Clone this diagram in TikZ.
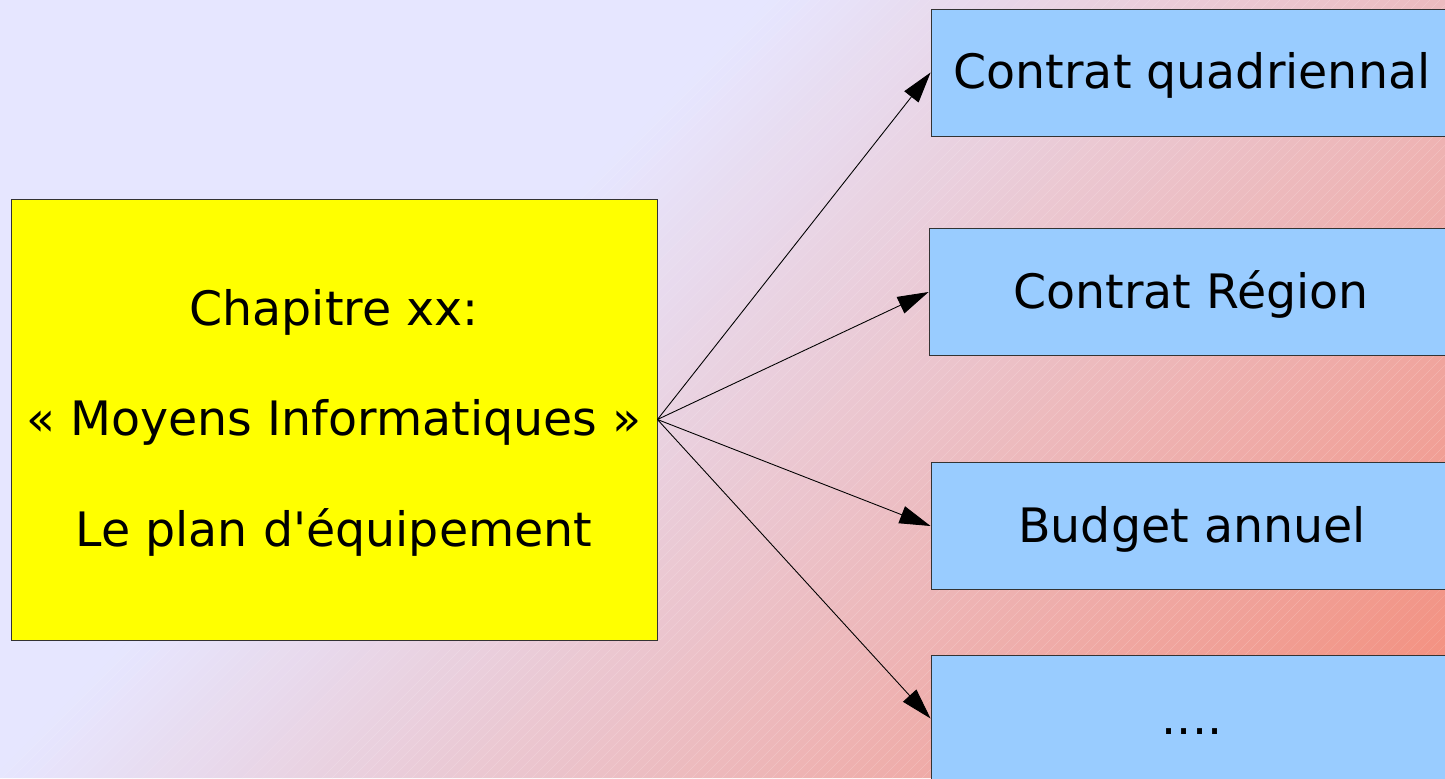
\documentclass[tikz,border=0pt]{standalone}
\usepackage{fontspec}
\setmainfont{DejaVu Sans}[Ligatures=TeXOff]
\usetikzlibrary{arrows.meta}
\definecolor{bglav}{HTML}{E6E6FF}
\definecolor{bgsalmon}{HTML}{F48A76}
\definecolor{chapyellow}{HTML}{FFFF00}
\definecolor{planblue}{HTML}{99CCFF}
\newcommand\linestrut{\rule[-0.236em]{0pt}{1.164em}}
\begin{document}
\begin{tikzpicture}[>={Triangle[length=6.2mm,width=3.6mm]}]
      \useasboundingbox (0,0) rectangle (28.9,-15.56);
      % background: lavender, then diagonal strips towards salmon
      \fill [bglav] (0,0) rectangle (28.9,-15.56);
      \begin{scope}
      \clip (0,0) rectangle (28.9,-15.56);
      \foreach \i in {0,...,145} {
          \pgfmathsetmacro{\sa}{0.02*(770+10*\i)}
          \pgfmathsetmacro{\sb}{\sa+0.21}
          \pgfmathsetmacro{\pct}{min(100,(10*\i+5)/14.53)}
          \colorlet{stripc}{bgsalmon!\pct!bglav}
          \fill [stripc] (\sa,0) -- (\sb,0) -- (\sb-15.56,-15.56) -- (\sa-15.56,-15.56) -- cycle;
          \draw [white, opacity=0.3, line width=0.35pt] (\sa+0.2,0) -- (\sa-15.36,-15.56);
      }
      \end{scope}
      \tikzstyle{chapbox}=[draw=black!80, line width=0.5pt, fill=chapyellow, inner sep=0pt,
          minimum width=12.92cm, minimum height=8.82cm, align=center,
          font=\fontsize{27pt}{63pt}\selectfont]
      \tikzstyle{planbox}=[draw=black!80, line width=0.5pt, fill=planblue, inner sep=0pt,
          minimum width=10.44cm, minimum height=2.54cm, text height=25.06pt, text depth=6.37pt,
          font=\fontsize{27pt}{33pt}\selectfont]
      \node [chapbox] (chap) at (6.68,-8.39)
          {\linestrut Chapitre xx:\\\linestrut« Moyens Informatiques »\\\linestrut Le plan d'équipement};
      \node [planbox] (quad) at (23.84,-1.45) {Contrat quadriennal};
      \node [planbox, minimum width=10.48cm] (region) at (23.82,-5.84) {Contrat Région};
      \node [planbox] (budget) at (23.84,-10.52) {Budget annuel};
      \node [planbox] (autres) at (23.84,-14.37) {....};
      \foreach \t in {quad,region,budget,autres}
          \draw [->, line width=0.5pt] (chap.east) -- (\t.west);
\end{tikzpicture}
\end{document}
